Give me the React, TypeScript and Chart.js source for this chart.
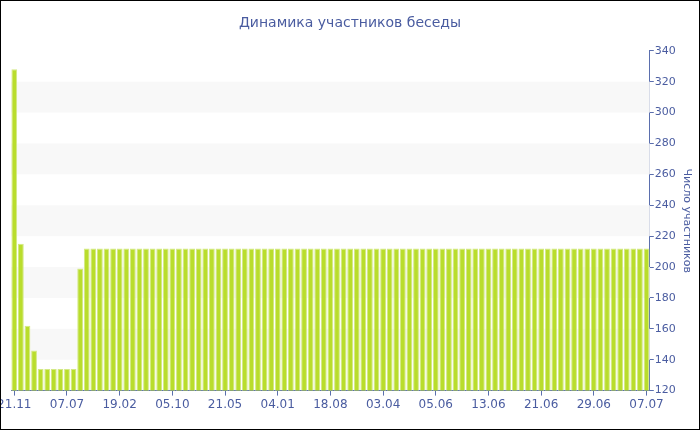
import React, { useEffect, useRef } from 'react';
import { Chart, registerables } from 'chart.js';

Chart.register(...registerables);

const TITLE = 'Динамика участников беседы';
const Y_TITLE = 'Число участников';

// 97 categories (dates); labels shown every 8th category, unknown ones left blank
const CATEGORIES = [
  '21.11', '', '', '', '', '', '', '',
  '07.07', '', '', '', '', '', '', '',
  '19.02', '', '', '', '', '', '', '',
  '05.10', '', '', '', '', '', '', '',
  '21.05', '', '', '', '', '', '', '',
  '04.01', '', '', '', '', '', '', '',
  '18.08', '', '', '', '', '', '', '',
  '03.04', '', '', '', '', '', '', '',
  '05.06', '06.06', '07.06', '08.06', '09.06', '10.06', '11.06', '12.06',
  '13.06', '14.06', '15.06', '16.06', '17.06', '18.06', '19.06', '20.06',
  '21.06', '22.06', '23.06', '24.06', '25.06', '26.06', '27.06', '28.06',
  '29.06', '30.06', '01.07', '02.07', '03.07', '04.07', '05.07', '06.07',
  '07.07',
];

const VALUES = [
  328, 215, 162, 146, 134, 134, 134, 134,
  134, 134, 199, 212, 212, 212, 212, 212,
  212, 212, 212, 212, 212, 212, 212, 212,
  212, 212, 212, 212, 212, 212, 212, 212,
  212, 212, 212, 212, 212, 212, 212, 212,
  212, 212, 212, 212, 212, 212, 212, 212,
  212, 212, 212, 212, 212, 212, 212, 212,
  212, 212, 212, 212, 212, 212, 212, 212,
  212, 212, 212, 212, 212, 212, 212, 212,
  212, 212, 212, 212, 212, 212, 212, 212,
  212, 212, 212, 212, 212, 212, 212, 212,
  212, 212, 212, 212, 212, 212, 212, 212,
  212,
];

const Y_MIN = 120;
const Y_MAX = 340;
const Y_STEP = 20;
const TICK_EVERY = 8;
const PLOT_BANDS: [number, number][] = [
  [140, 160],
  [180, 200],
  [220, 240],
  [260, 280],
  [300, 320],
];

const BAR_COLOR = '#b9dd2c';
const BAR_EDGE = '#d3e985';
const AXIS_COLOR = '#5b6fae';
const TEXT_COLOR = '#4a5ca0';
const BAND_COLOR = '#f8f8f8';
const FONT = "'DejaVu Sans', Verdana, sans-serif";
const PLOT_LEFT = 11;

const bandsPlugin = {
  id: 'plotBands',
  beforeDatasetsDraw(chart: any) {
    const { ctx, chartArea, scales } = chart;
    const y = scales.y;
    ctx.save();
    ctx.fillStyle = BAND_COLOR;
    for (const [a, b] of PLOT_BANDS) {
      const top = y.getPixelForValue(b);
      const bottom = y.getPixelForValue(a);
      ctx.fillRect(chartArea.left, top, chartArea.right - chartArea.left, bottom - top);
    }
    ctx.restore();
  },
};

export default function App() {
  const canvasRef = useRef<HTMLCanvasElement | null>(null);

  useEffect(() => {
    const canvas = canvasRef.current;
    if (!canvas) return;
    const chart = new Chart(canvas, {
      type: 'bar',
      data: {
        labels: CATEGORIES,
        datasets: [
          {
            data: VALUES,
            backgroundColor: BAR_COLOR,
            borderColor: BAR_EDGE,
            borderWidth: 1,
            borderSkipped: false,
            barPercentage: 0.88,
            categoryPercentage: 1,
          },
        ],
      },
      options: {
        responsive: false,
        animation: false,
        devicePixelRatio: 1,
        layout: { padding: { left: 0, right: 0, top: 0, bottom: 16 } },
        plugins: {
          legend: { display: false },
          tooltip: { enabled: false },
          title: {
            display: true,
            text: TITLE,
            color: TEXT_COLOR,
            font: { family: FONT, size: 14, weight: 'normal' },
            padding: { top: 15, bottom: 19 },
          },
        },
        scales: {
          x: {
            type: 'category',
            afterFit: (scale: any) => {
              // let the first label run past the left edge, as in the original
              scale.paddingLeft = PLOT_LEFT;
            },
            grid: {
              drawOnChartArea: false,
              offset: false,
              tickLength: 5,
              tickColor: (ctx: any) => (ctx.index % TICK_EVERY === 0 ? AXIS_COLOR : 'rgba(0,0,0,0)'),
            },
            border: { color: AXIS_COLOR, width: 1 },
            ticks: {
              autoSkip: false,
              maxRotation: 0,
              minRotation: 0,
              padding: 2,
              color: TEXT_COLOR,
              font: { family: FONT, size: 12 },
              callback: (_v: any, i: number) => (i % TICK_EVERY === 0 ? CATEGORIES[i] : ''),
            },
          },
          y: {
            position: 'right',
            min: Y_MIN,
            max: Y_MAX,
            grid: {
              drawOnChartArea: false,
              tickLength: 4,
              tickColor: AXIS_COLOR,
            },
            border: { color: AXIS_COLOR, width: 1 },
            ticks: {
              stepSize: Y_STEP,
              padding: 1,
              color: TEXT_COLOR,
              font: { family: FONT, size: 11 },
            },
            title: {
              display: true,
              text: Y_TITLE,
              color: TEXT_COLOR,
              font: { family: FONT, size: 11 },
              padding: { top: 7, bottom: 3 },
            },
          },
        },
      },
      plugins: [bandsPlugin],
    });
    return () => chart.destroy();
  }, []);

  return (
    <div
      style={{
        position: 'absolute',
        left: 0,
        top: 0,
        width: 700,
        height: 430,
        overflow: 'hidden',
        background: '#fff',
      }}
    >
      <canvas
        ref={canvasRef}
        width={700}
        height={430}
        style={{ position: 'absolute', left: 0, top: 0, width: 700, height: 430 }}
      />
      <div
        style={{
          position: 'absolute',
          left: 0,
          top: 0,
          width: 700,
          height: 430,
          boxSizing: 'border-box',
          border: '1px solid #000',
          pointerEvents: 'none',
        }}
      />
    </div>
  );
}
